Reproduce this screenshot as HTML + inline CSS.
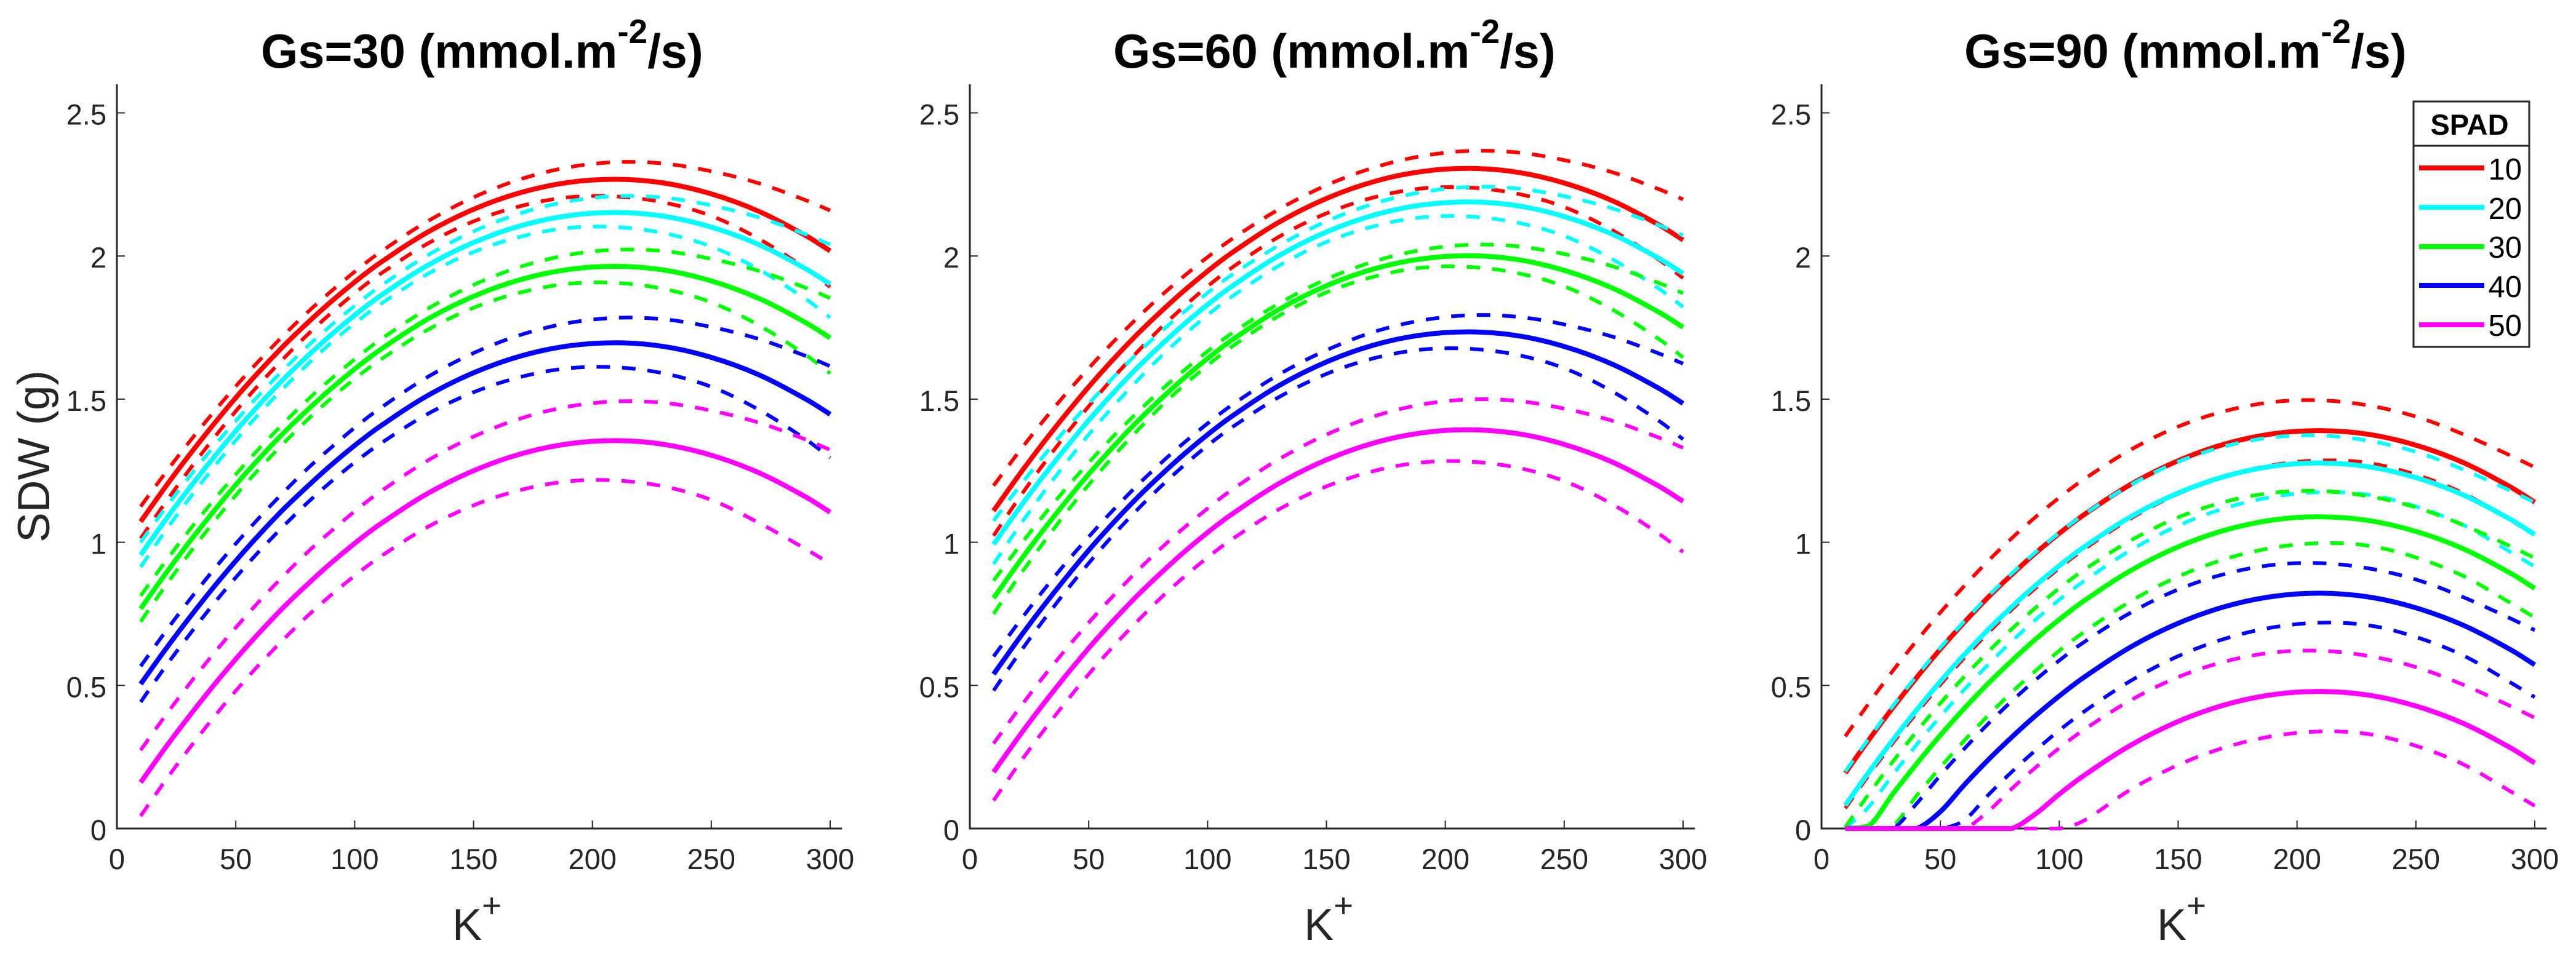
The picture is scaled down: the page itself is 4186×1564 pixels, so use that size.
<!DOCTYPE html>
<html lang="en">
<head>
<meta charset="utf-8">
<title>SDW vs K+ for Gs levels</title>
<style>
html,body{margin:0;padding:0;background:#fff;}
svg{display:block;font-family:"Liberation Sans",sans-serif;}
</style>
</head>
<body>
<svg id="figure" xmlns="http://www.w3.org/2000/svg" width="4186" height="1564" viewBox="0 0 4186 1564">
  <rect x="0" y="0" width="4186" height="1564" fill="#fff"/>
  <g id="plots"></g>

  <text x="424" y="110" font-size="77.5" font-weight="bold" fill="#000">Gs=30 (mmol.m<tspan dy="-40" font-size="55">-2</tspan><tspan dy="40">/s)</tspan></text>
  <text x="1809" y="110" font-size="77.5" font-weight="bold" fill="#000">Gs=60 (mmol.m<tspan dy="-40" font-size="55">-2</tspan><tspan dy="40">/s)</tspan></text>
  <text x="3192" y="110" font-size="77.5" font-weight="bold" fill="#000">Gs=90 (mmol.m<tspan dy="-40" font-size="55">-2</tspan><tspan dy="40">/s)</tspan></text>

  <text transform="translate(80,742) rotate(-90)" text-anchor="middle" font-size="73" fill="#262626">SDW (g)</text>

  <text x="735" y="1528" font-size="72" fill="#262626">K<tspan dy="-37" font-size="55">+</tspan></text>
  <text x="2119" y="1528" font-size="72" fill="#262626">K<tspan dy="-37" font-size="55">+</tspan></text>
  <text x="3505" y="1528" font-size="72" fill="#262626">K<tspan dy="-37" font-size="55">+</tspan></text>

  <g>
    <rect x="3922" y="165" width="188" height="399" fill="#fff" stroke="#262626" stroke-width="3"/>
    <line x1="3922" y1="237" x2="4110" y2="237" stroke="#262626" stroke-width="3"/>
    <text x="4013" y="219" text-anchor="middle" font-size="47" font-weight="bold" fill="#000">SPAD</text>
    <line x1="3931" y1="273" x2="4037" y2="273" stroke="#ff0000" stroke-width="8"/>
    <text x="4098" y="292" text-anchor="end" font-size="49" fill="#000">10</text>
    <line x1="3931" y1="337" x2="4037" y2="337" stroke="#00ffff" stroke-width="8"/>
    <text x="4098" y="356" text-anchor="end" font-size="49" fill="#000">20</text>
    <line x1="3931" y1="401" x2="4037" y2="401" stroke="#00ff00" stroke-width="8"/>
    <text x="4098" y="419" text-anchor="end" font-size="49" fill="#000">30</text>
    <line x1="3931" y1="464" x2="4037" y2="464" stroke="#0000ff" stroke-width="8"/>
    <text x="4098" y="483" text-anchor="end" font-size="49" fill="#000">40</text>
    <line x1="3931" y1="528" x2="4037" y2="528" stroke="#ff00ff" stroke-width="8"/>
    <text x="4098" y="546" text-anchor="end" font-size="49" fill="#000">50</text>
  </g>
</svg>

<script>
const kValues = [10,20,30,40,50,60,70,80,90,100,110,130,150,170,190,210,230,250,270,290,300];
const xTickValues = [0,50,100,150,200,250,300];
const yTickValues = [0,0.5,1,1.5,2,2.5];
const xTickLabels = ["0","50","100","150","200","250","300"];
const yTickLabels = ["0","0.5","1","1.5","2","2.5"];
const spadLevels = [10,20,30,40,50];
const spadColors = ["#ff0000","#00ffff","#00ff00","#0000ff","#ff00ff"];
const panelNames = ["gs30","gs60","gs90"];

/* Gs = 30 */
const gs30Spad10Upper = [1.125,1.238,1.346,1.448,1.545,1.636,1.722,1.802,1.876,1.945,2.009,2.118,2.205,2.269,2.310,2.328,2.323,2.296,2.254,2.194,2.159];
const gs30Spad10Mean  = [1.072,1.189,1.300,1.405,1.505,1.598,1.685,1.765,1.840,1.909,1.972,2.080,2.163,2.222,2.257,2.268,2.255,2.217,2.156,2.070,2.018];
const gs30Spad10Lower = [1.013,1.134,1.248,1.356,1.458,1.553,1.641,1.724,1.800,1.870,1.933,2.040,2.121,2.175,2.205,2.208,2.187,2.140,2.060,1.955,1.892];
const gs30Spad20Upper = [1.000,1.115,1.224,1.327,1.424,1.516,1.602,1.683,1.757,1.826,1.890,1.999,2.086,2.150,2.191,2.209,2.204,2.177,2.135,2.075,2.040];
const gs30Spad20Mean  = [0.956,1.073,1.184,1.289,1.389,1.482,1.569,1.649,1.724,1.793,1.856,1.964,2.047,2.106,2.141,2.152,2.139,2.101,2.040,1.954,1.902];
const gs30Spad20Lower = [0.914,1.035,1.148,1.255,1.356,1.451,1.538,1.620,1.696,1.765,1.827,1.934,2.014,2.068,2.098,2.101,2.080,2.033,1.953,1.848,1.785];
const gs30Spad30Upper = [0.813,0.928,1.037,1.140,1.237,1.329,1.415,1.496,1.570,1.639,1.703,1.812,1.899,1.963,2.004,2.022,2.017,1.990,1.948,1.888,1.853];
const gs30Spad30Mean  = [0.768,0.885,0.996,1.101,1.201,1.294,1.381,1.461,1.536,1.605,1.668,1.776,1.859,1.918,1.953,1.964,1.951,1.913,1.852,1.766,1.714];
const gs30Spad30Lower = [0.723,0.843,0.956,1.063,1.164,1.258,1.345,1.427,1.502,1.571,1.633,1.739,1.819,1.873,1.903,1.906,1.885,1.838,1.758,1.653,1.590];
const gs30Spad40Upper = [0.567,0.683,0.793,0.897,0.995,1.087,1.174,1.256,1.330,1.400,1.464,1.574,1.661,1.725,1.766,1.784,1.779,1.752,1.710,1.650,1.615];
const gs30Spad40Mean  = [0.505,0.621,0.731,0.836,0.935,1.028,1.115,1.194,1.269,1.338,1.401,1.509,1.592,1.651,1.686,1.697,1.684,1.646,1.585,1.499,1.447];
const gs30Spad40Lower = [0.442,0.561,0.672,0.778,0.877,0.970,1.056,1.137,1.211,1.279,1.340,1.445,1.524,1.578,1.608,1.611,1.590,1.543,1.463,1.358,1.295];
const gs30Spad50Upper = [0.274,0.390,0.500,0.604,0.702,0.795,0.882,0.964,1.038,1.108,1.172,1.282,1.369,1.433,1.474,1.492,1.487,1.460,1.418,1.358,1.323];
const gs30Spad50Mean  = [0.161,0.278,0.388,0.493,0.592,0.685,0.772,0.852,0.927,0.996,1.059,1.167,1.250,1.309,1.344,1.355,1.342,1.304,1.243,1.157,1.105];
const gs30Spad50Lower = [0.044,0.163,0.275,0.381,0.481,0.574,0.660,0.741,0.815,0.883,0.945,1.050,1.129,1.183,1.213,1.216,1.195,1.148,1.068,0.975,0.925];

/* Gs = 60 */
const gs60Spad10Upper = [1.198,1.309,1.415,1.515,1.608,1.697,1.780,1.858,1.929,1.996,2.058,2.163,2.247,2.309,2.349,2.367,2.362,2.335,2.293,2.233,2.198];
const gs60Spad10Mean  = [1.110,1.227,1.338,1.443,1.543,1.636,1.723,1.803,1.878,1.947,2.010,2.118,2.201,2.260,2.295,2.306,2.293,2.255,2.194,2.108,2.056];
const gs60Spad10Lower = [1.023,1.146,1.262,1.372,1.475,1.572,1.661,1.746,1.823,1.894,1.958,2.067,2.149,2.205,2.236,2.239,2.218,2.171,2.091,1.986,1.923];
const gs60Spad20Upper = [1.075,1.186,1.291,1.391,1.484,1.573,1.656,1.733,1.804,1.871,1.933,2.037,2.121,2.183,2.223,2.241,2.236,2.209,2.167,2.107,2.072];
const gs60Spad20Mean  = [0.993,1.110,1.221,1.326,1.426,1.519,1.606,1.686,1.761,1.830,1.893,2.001,2.084,2.143,2.178,2.189,2.176,2.138,2.077,1.991,1.939];
const gs60Spad20Lower = [0.924,1.047,1.163,1.272,1.376,1.472,1.561,1.646,1.723,1.794,1.857,1.966,2.049,2.104,2.135,2.138,2.117,2.070,1.990,1.885,1.822];
const gs60Spad30Upper = [0.866,0.977,1.084,1.184,1.278,1.367,1.450,1.528,1.600,1.667,1.729,1.834,1.919,1.981,2.021,2.039,2.034,2.007,1.965,1.905,1.870];
const gs60Spad30Mean  = [0.805,0.922,1.033,1.138,1.238,1.331,1.418,1.498,1.573,1.642,1.705,1.813,1.896,1.955,1.990,2.001,1.988,1.950,1.889,1.803,1.751];
const gs60Spad30Lower = [0.750,0.873,0.988,1.098,1.201,1.297,1.386,1.471,1.548,1.618,1.682,1.791,1.873,1.928,1.959,1.962,1.941,1.894,1.814,1.709,1.646];
const gs60Spad40Upper = [0.601,0.714,0.822,0.924,1.019,1.110,1.195,1.274,1.347,1.415,1.478,1.586,1.671,1.735,1.775,1.793,1.788,1.761,1.719,1.659,1.624];
const gs60Spad40Mean  = [0.539,0.656,0.767,0.872,0.972,1.065,1.152,1.232,1.307,1.376,1.439,1.547,1.630,1.689,1.724,1.735,1.722,1.684,1.623,1.537,1.485];
const gs60Spad40Lower = [0.482,0.603,0.717,0.825,0.927,1.022,1.110,1.192,1.268,1.338,1.400,1.507,1.588,1.643,1.673,1.676,1.655,1.608,1.528,1.423,1.360];
const gs60Spad50Upper = [0.297,0.411,0.520,0.622,0.719,0.810,0.896,0.976,1.050,1.118,1.182,1.290,1.376,1.440,1.481,1.499,1.494,1.467,1.425,1.365,1.330];
const gs60Spad50Mean  = [0.197,0.314,0.425,0.530,0.630,0.723,0.810,0.890,0.965,1.034,1.097,1.205,1.288,1.347,1.382,1.393,1.380,1.342,1.281,1.195,1.143];
const gs60Spad50Lower = [0.098,0.218,0.331,0.438,0.539,0.633,0.720,0.803,0.878,0.947,1.009,1.115,1.195,1.249,1.279,1.282,1.261,1.214,1.134,1.029,0.966];

/* Gs = 90 */
const gs90Spad10Upper = [0.322,0.439,0.551,0.656,0.755,0.847,0.934,1.014,1.088,1.156,1.218,1.323,1.404,1.459,1.490,1.496,1.478,1.439,1.377,1.302,1.262];
const gs90Spad10Mean  = [0.194,0.311,0.422,0.527,0.627,0.720,0.807,0.887,0.962,1.031,1.094,1.202,1.285,1.344,1.379,1.390,1.377,1.339,1.278,1.192,1.140];
const gs90Spad10Lower = [0.071,0.188,0.299,0.404,0.503,0.596,0.683,0.765,0.840,0.910,0.973,1.083,1.169,1.231,1.270,1.286,1.277,1.236,1.171,1.076,1.026];
const gs90Spad20Upper = [0.199,0.316,0.428,0.533,0.632,0.724,0.811,0.891,0.965,1.033,1.095,1.200,1.281,1.336,1.367,1.373,1.355,1.316,1.254,1.179,1.139];
const gs90Spad20Mean  = [0.081,0.198,0.309,0.414,0.514,0.607,0.694,0.774,0.849,0.918,0.981,1.089,1.172,1.231,1.266,1.277,1.264,1.226,1.165,1.079,1.027];
const gs90Spad20Lower = [0,0.077,0.188,0.293,0.392,0.485,0.572,0.654,0.729,0.799,0.862,0.972,1.058,1.120,1.159,1.175,1.166,1.125,1.060,0.965,0.915];
const gs90Spad30Upper = [0.005,0.122,0.234,0.339,0.438,0.530,0.617,0.697,0.771,0.839,0.901,1.006,1.087,1.142,1.173,1.179,1.161,1.122,1.060,0.985,0.945];
const gs90Spad30Mean  = [0,0.010,0.121,0.226,0.326,0.419,0.506,0.586,0.661,0.730,0.793,0.901,0.984,1.043,1.078,1.089,1.076,1.038,0.977,0.891,0.839];
const gs90Spad30Lower = [0,0,0.010,0.115,0.214,0.307,0.394,0.476,0.551,0.621,0.684,0.794,0.880,0.942,0.981,0.997,0.988,0.947,0.882,0.787,0.737];
const gs90Spad40Upper = [0,0,0,0.087,0.186,0.278,0.365,0.445,0.519,0.587,0.649,0.754,0.835,0.890,0.921,0.927,0.909,0.870,0.808,0.733,0.693];
const gs90Spad40Mean  = [0,0,0,0,0.059,0.152,0.239,0.319,0.394,0.463,0.526,0.634,0.717,0.776,0.811,0.822,0.809,0.771,0.710,0.624,0.572];
const gs90Spad40Lower = [0,0,0,0,0,0.029,0.116,0.198,0.273,0.343,0.406,0.516,0.602,0.664,0.703,0.719,0.710,0.669,0.604,0.509,0.459];
const gs90Spad50Upper = [0,0,0,0,0,0,0.059,0.139,0.213,0.281,0.343,0.448,0.529,0.584,0.615,0.621,0.603,0.564,0.502,0.427,0.387];
const gs90Spad50Mean  = [0,0,0,0,0,0,0,0,0.051,0.120,0.183,0.291,0.374,0.433,0.468,0.479,0.466,0.428,0.367,0.281,0.229];
const gs90Spad50Lower = [0,0,0,0,0,0,0,0,0,0,0.026,0.136,0.222,0.284,0.323,0.339,0.330,0.289,0.224,0.129,0.079];

const gs30Series = [
  [gs30Spad10Upper,gs30Spad10Lower,gs30Spad10Mean],
  [gs30Spad20Upper,gs30Spad20Lower,gs30Spad20Mean],
  [gs30Spad30Upper,gs30Spad30Lower,gs30Spad30Mean],
  [gs30Spad40Upper,gs30Spad40Lower,gs30Spad40Mean],
  [gs30Spad50Upper,gs30Spad50Lower,gs30Spad50Mean]
];
const gs60Series = [
  [gs60Spad10Upper,gs60Spad10Lower,gs60Spad10Mean],
  [gs60Spad20Upper,gs60Spad20Lower,gs60Spad20Mean],
  [gs60Spad30Upper,gs60Spad30Lower,gs60Spad30Mean],
  [gs60Spad40Upper,gs60Spad40Lower,gs60Spad40Mean],
  [gs60Spad50Upper,gs60Spad50Lower,gs60Spad50Mean]
];
const gs90Series = [
  [gs90Spad10Upper,gs90Spad10Lower,gs90Spad10Mean],
  [gs90Spad20Upper,gs90Spad20Lower,gs90Spad20Mean],
  [gs90Spad30Upper,gs90Spad30Lower,gs90Spad30Mean],
  [gs90Spad40Upper,gs90Spad40Lower,gs90Spad40Mean],
  [gs90Spad50Upper,gs90Spad50Lower,gs90Spad50Mean]
];
const allPanelSeries = [gs30Series,gs60Series,gs90Series];
const curveKinds = ["upper","lower","mean"];

/* layout */
const NS = "http://www.w3.org/2000/svg";
const axisLefts = [190,1576,2960];
const pxPerK = 1159/300;
const xMax = 305;
const yMax = 2.6;
const yZero = 1347;
const pxPerUnit = 465.4;
const axisColor = "#262626";
const plots = document.getElementById("plots");

function xScale(panel, k){ return axisLefts[panel] + k*pxPerK; }
function yScale(v){ return yZero - v*pxPerUnit; }

function curvePath(panel, values){
  const xs = kValues.map(function(k){ return xScale(panel,k); });
  const ys = values.map(yScale);
  const n = xs.length;
  const slopes = xs.map(function(x,i){
    const a = Math.max(i-1,0);
    const b = Math.min(i+1,n-1);
    return (ys[b]-ys[a])/(xs[b]-xs[a]);
  });
  let d = "M" + xs[0].toFixed(1) + " " + ys[0].toFixed(1);
  for (let i=0;i<n-1;i++){
    if (values[i]===0 && values[i+1]===0){
      d += "L" + xs[i+1].toFixed(1) + " " + ys[i+1].toFixed(1);
      continue;
    }
    const h = xs[i+1]-xs[i];
    const c1y = Math.min(ys[i]+slopes[i]*h/3, yZero);
    const c2y = Math.min(ys[i+1]-slopes[i+1]*h/3, yZero);
    d += "C" + (xs[i]+h/3).toFixed(1) + " " + c1y.toFixed(1) + " " +
         (xs[i+1]-h/3).toFixed(1) + " " + c2y.toFixed(1) + " " +
         xs[i+1].toFixed(1) + " " + ys[i+1].toFixed(1);
  }
  return d;
}

function drawPanel(p){
  const g = document.createElementNS(NS,"g");
  
  
  plots.appendChild(g);

  const yAxis = document.createElementNS(NS,"line");
  yAxis.setAttribute("x1", xScale(p,0));
  yAxis.setAttribute("x2", xScale(p,0));
  yAxis.setAttribute("y1", yScale(0));
  yAxis.setAttribute("y2", yScale(yMax));
  yAxis.setAttribute("stroke", axisColor);
  yAxis.setAttribute("stroke-width", "3");
  
  
  g.appendChild(yAxis);

  const xAxis = document.createElementNS(NS,"line");
  xAxis.setAttribute("x1", xScale(p,0) - 1.5);
  xAxis.setAttribute("x2", xScale(p,xMax));
  xAxis.setAttribute("y1", yScale(0));
  xAxis.setAttribute("y2", yScale(0));
  xAxis.setAttribute("stroke", axisColor);
  xAxis.setAttribute("stroke-width", "3");
  
  
  g.appendChild(xAxis);

  xTickValues.forEach(function(t,i){
    const tick = document.createElementNS(NS,"line");
    tick.setAttribute("x1", xScale(p,t));
    tick.setAttribute("x2", xScale(p,t));
    tick.setAttribute("y1", yScale(0));
    tick.setAttribute("y2", yScale(0) - 13);
    tick.setAttribute("stroke", axisColor);
    tick.setAttribute("stroke-width", "2");
    
    
    g.appendChild(tick);

    const label = document.createElementNS(NS,"text");
    label.setAttribute("x", xScale(p,t));
    label.setAttribute("y", 1413);
    label.setAttribute("text-anchor", "middle");
    label.setAttribute("font-size", "47");
    label.setAttribute("fill", axisColor);
    
    
    label.textContent = xTickLabels[i];
    g.appendChild(label);
  });

  yTickValues.forEach(function(t,i){
    const tick = document.createElementNS(NS,"line");
    tick.setAttribute("x1", xScale(p,0));
    tick.setAttribute("x2", xScale(p,0) + 13);
    tick.setAttribute("y1", yScale(t));
    tick.setAttribute("y2", yScale(t));
    tick.setAttribute("stroke", axisColor);
    tick.setAttribute("stroke-width", "2");
    
    
    g.appendChild(tick);

    const label = document.createElementNS(NS,"text");
    label.setAttribute("x", xScale(p,0) - 17);
    label.setAttribute("y", yScale(t) + 19);
    label.setAttribute("text-anchor", "end");
    label.setAttribute("font-size", "47");
    label.setAttribute("fill", axisColor);
    
    
    label.textContent = yTickLabels[i];
    g.appendChild(label);
  });

  allPanelSeries[p].forEach(function(group, c){
    group.forEach(function(values, j){
      const path = document.createElementNS(NS,"path");
      path.setAttribute("d", curvePath(p, values));
      path.setAttribute("fill", "none");
      path.setAttribute("stroke", spadColors[c]);
      if (curveKinds[j] === "mean") {
        path.setAttribute("stroke-width", "8");
      } else {
        path.setAttribute("stroke-width", "6");
        path.setAttribute("stroke-dasharray", "22 19.5");
      }
      
      
      g.appendChild(path);
    });
  });
}

panelNames.forEach(function(_, p){ drawPanel(p); });
</script>
</body>
</html>
